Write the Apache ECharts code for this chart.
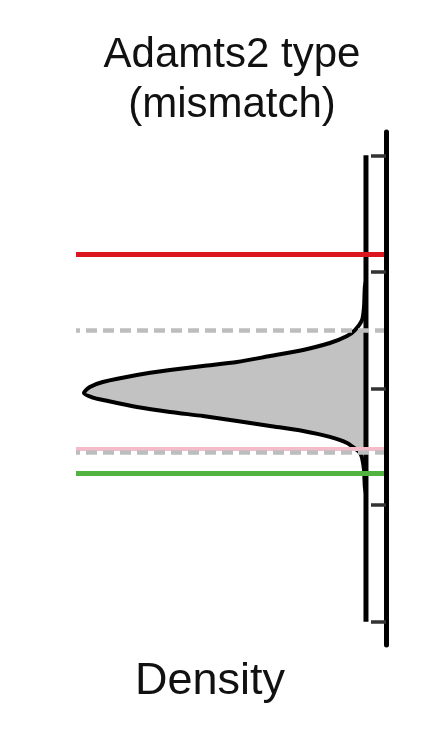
<!DOCTYPE html>
<html>
<head>
<meta charset="utf-8">
<script src="https://cdn.jsdelivr.net/npm/echarts@6/dist/echarts.min.js"></script>
<style>
html,body{margin:0;padding:0;background:#fff;}
#chart{width:422px;height:741px;}
</style>
</head>
<body>
<div id="chart"></div>
<script>
// Density curve (value on vertical axis, density horizontally, peak normalised to 1)
const curveValue = [2.92, 2.869, 2.698, 2.587, 2.501, 2.450, 2.390, 2.330, 2.278, 2.227, 2.193, 2.158, 2.116, 2.056, 2.013, 1.962, 1.919, 1.902, 1.842, 1.799, 1.764, 1.722, 1.679, 1.636, 1.585, 1.533, 1.473, 1.448, 1.405, 1.302, 1.156, 1.10];
const curveDensity = [0.000, 0.004, 0.007, 0.014, 0.039, 0.067, 0.128, 0.223, 0.340, 0.457, 0.578, 0.695, 0.812, 0.933, 0.979, 1.000, 0.965, 0.933, 0.812, 0.695, 0.578, 0.457, 0.340, 0.223, 0.128, 0.067, 0.032, 0.021, 0.014, 0.007, 0.004, 0.000];
// shaded interval bounds (grey dashed lines)
const shadeLow = 1.448;
const shadeHigh = 2.501;
// reference lines
const redLine = 3.152;
const pinkLine = 1.478;
const greenLine = 1.274;
// axis ticks
const tickValues = [0, 1, 2, 3, 4];

const curveData = curveValue.map((v, i) => [curveDensity[i], v]);
const fillData = curveData.filter(p => p[1] >= shadeLow - 1e-9 && p[1] <= shadeHigh + 1e-9);

const chart = echarts.init(document.getElementById('chart'), null, {renderer: 'canvas'});
chart.setOption({
  animation: false,
  backgroundColor: '#fff',
  title: [
    {
      text: 'Adamts2 type\n(mismatch)',
      left: 232, top: 30, textAlign: 'center', padding: 0,
      textStyle: {fontFamily: 'Liberation Sans', fontSize: 42, fontWeight: 'normal', color: '#111', lineHeight: 50}
    },
    {
      text: 'Density',
      left: 210, top: 659, textAlign: 'center', padding: 0,
      textStyle: {fontFamily: 'Liberation Sans', fontSize: 45, fontWeight: 'normal', color: '#111', lineHeight: 45}
    }
  ],
  grid: {left: 76, right: 36, top: 132, bottom: 96, containLabel: false},
  xAxis: {
    type: 'value', inverse: true, min: -0.071, max: 1.028,
    show: false
  },
  yAxis: {
    type: 'value', position: 'right', min: -0.2, max: 4.2, z: 10,
    axisLine: {show: true, onZero: false, lineStyle: {color: '#000', width: 5}},
    axisTick: {show: true, inside: true, length: 15, customValues: tickValues, lineStyle: {color: '#333', width: 3.5}},
    axisLabel: {show: false},
    splitLine: {show: false}
  },
  series: [
    {
      type: 'custom',
      z: 1,
      data: [0],
      renderItem: function (params, api) {
        const pts = fillData.map(p => api.coord(p));
        pts.push(api.coord([0, shadeLow]));
        pts.push(api.coord([0, shadeHigh]));
        return {type: 'polygon', shape: {points: pts}, style: {fill: '#c2c2c2'}};
      }
    },
    {
      type: 'line', z: 3,
      data: [[0, tickValues[0]], [0, tickValues[tickValues.length - 1]]],
      symbol: 'none',
      lineStyle: {color: '#000', width: 5}
    },
    {
      type: 'line', z: 4,
      data: curveData,
      symbol: 'none', smooth: 0.25,
      lineStyle: {color: '#000', width: 4, join: 'round', cap: 'round'}
    },
    {
      type: 'line', z: 5,
      data: [],
      markLine: {
        silent: true, symbol: 'none', label: {show: false},
        data: [
          {yAxis: redLine, lineStyle: {color: '#dc1620', width: 5, type: 'solid'}},
          {yAxis: greenLine, lineStyle: {color: '#52b343', width: 5, type: 'solid'}},
          {yAxis: pinkLine, lineStyle: {color: '#f4bcc8', width: 4, type: 'solid'}},
          {yAxis: shadeHigh, lineStyle: {color: '#bdbdbd', width: 4.5, type: [11, 6]}},
          {yAxis: shadeLow, lineStyle: {color: '#bdbdbd', width: 4.5, type: [11, 6]}}
        ]
      }
    }
  ]
});
</script>
</body>
</html>
